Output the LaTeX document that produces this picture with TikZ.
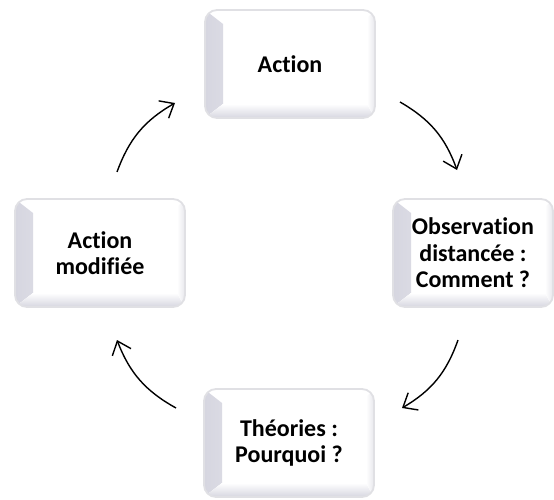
\documentclass[tikz,border=0pt]{standalone}
\usepackage{tikz}
\usepackage{xcolor}
\usepackage{fontspec}
\setmainfont{Carlito}[Ligatures=NoCommon]
\usetikzlibrary{arrows.meta}

\definecolor{bevel}{RGB}{214,214,224}
\definecolor{rim}{RGB}{224,224,228}

\tikzset{
  box/.style={rounded corners=12pt, draw=rim, line width=1.8pt, fill=white,
    minimum width=170pt, minimum height=108pt, align=center,
    font=\fontsize{24}{26.5}\selectfont\bfseries,
    path picture={
      \fill[sharp corners, left color=bevel, right color=white]
        (path picture bounding box.south west) -- (path picture bounding box.north west)
        -- ([shift={(18pt,-14pt)}]path picture bounding box.north west)
        -- ([shift={(18pt,14pt)}]path picture bounding box.south west) -- cycle;
      \fill[sharp corners, bottom color=bevel, top color=white]
        (path picture bounding box.south west) -- ([shift={(18pt,14pt)}]path picture bounding box.south west)
        -- ([shift={(-8pt,14pt)}]path picture bounding box.south east)
        -- (path picture bounding box.south east) -- cycle;
      \fill[sharp corners, right color=bevel!60, left color=white]
        (path picture bounding box.south east) -- ([shift={(-8pt,14pt)}]path picture bounding box.south east)
        -- ([shift={(-8pt,-8pt)}]path picture bounding box.north east)
        -- (path picture bounding box.north east) -- cycle;
    }},
  arr/.style={line width=1.4pt, -{Straight Barb[length=12pt,width=20pt]}}
}

\begin{document}
\begin{tikzpicture}[x=1pt,y=1pt]
\useasboundingbox (0,0) rectangle (554,499);

\node[box] (A) at (290,435) {Action};
\node[box, minimum width=160pt] (O) at (473,246) {Observation\\distancée :\\Comment ?};
\node[box] (T) at (289,56) {Théories :\\Pourquoi ?};
\node[box] (M) at (100,246) {Action\\modifiée};

% ends of the arrows
\coordinate (a1) at (400,397);
\coordinate (a2) at (457,329);
\coordinate (o1) at (458,159);
\coordinate (o2) at (402,91);
\coordinate (t1) at (176,91);
\coordinate (t2) at (117,159);
\coordinate (m1) at (117,327);
\coordinate (m2) at (175,396);

\draw[arr] (a1) to[bend left=20] (a2);
\draw[arr] (o1) to[bend left=20] (o2);
\draw[arr] (t1) to[bend left=20] (t2);
\draw[arr] (m1) to[bend left=20] (m2);

\end{tikzpicture}
\end{document}
